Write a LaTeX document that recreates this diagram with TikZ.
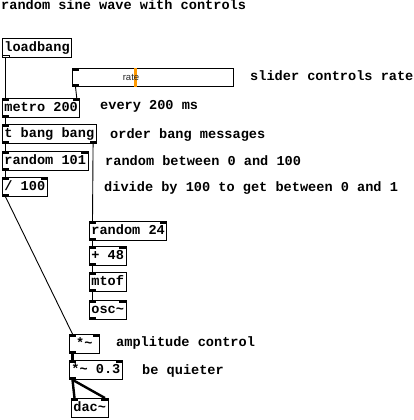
\documentclass[tikz,border=0pt]{standalone}
\usepackage{fontspec}
\setmonofont{Liberation Mono}
\newfontfamily\ratefont{Liberation Sans}
\usetikzlibrary{calc}

\begin{document}
\begin{tikzpicture}[x=1pt, y=-1pt]

        \def\fs{13.6}           % font size of boxes and comments
        \def\iw{7}              % width of an in- or outlet
        \def\ih{2.5}            % height of an in- or outlet
        \def\io{3.5}            % offset of a connection from the box edge
        \tikzstyle{obj}=[draw=black, line width=0.8pt, anchor=north west, inner xsep=2pt, inner ysep=0pt,
                         minimum height=19pt, text height=10pt, text depth=2pt,
                         font=\ttfamily\bfseries\fontsize{\fs}{\fs}\selectfont]
        \tikzstyle{cmt}=[anchor=base west, inner sep=0pt, font=\ttfamily\bfseries\fontsize{\fs}{\fs}\selectfont]
        \tikzstyle{ctl}=[line width=0.9pt]
        \tikzstyle{sig}=[line width=2.4pt]

        \useasboundingbox (0,0) rectangle (414,420);

        % Comments
        \node[cmt] (title) at (1,10) {random sine wave with controls};
        \node[cmt] (c-rate) at (250,80) {slider controls rate};
        \node[cmt] (c-metro) at (100,109) {every 200 ms};
        \node[cmt] (c-trig) at (110,138) {order bang messages};
        \node[cmt] (c-rnd) at (105,165) {random between 0 and 100};
        \node[cmt] (c-div) at (104,191) {divide by 100 to get between 0 and 1};
        \node[cmt] (c-mul) at (116,346) {amplitude control};
        \node[cmt] (c-mulq) at (142,374) {be quieter};

        % Control part
        \node[obj] (lb) at (2,38) {loadbang};
        \node[obj, minimum width=161pt, minimum height=18pt] (rate) at (72,68) {};
        \fill[orange!80!yellow] ($(rate.north west)+(62,0)$) rectangle ($(rate.south west)+(65,0)$);
        \node[font=\ratefont\fontsize{9.5}{9.5}\selectfont, text=black!85] (ratelbl) at (131,77) {rate};
        \node[obj] (metro) at (2,98) {metro 200};
        \node[obj] (trig) at (2,124) {t bang bang};
        \node[obj] (rnd) at (2,151) {random 101};
        \node[obj] (div) at (2,177) {/ 100};

        % Audio part
        \node[obj] (rnd24) at (89,221) {random 24};
        \node[obj] (add) at (89,246) {+ 48};
        \node[obj] (mtof) at (89,272) {mtof};
        \node[obj] (osc) at (89,300) {osc\char`~};
        \node[obj, minimum width=30pt] (mul) at (69,334) {*\char`~};
        \node[obj] (mulq) at (69,360) {*\char`~{} 0.3};
        \node[obj] (dac) at (71,398) {dac\char`~};

        % Inlets and outlets
        \foreach \n in {rate,metro,trig,rnd,div,rnd24,add,mtof,osc,mul,mulq,dac}
            \fill (\n.north west) rectangle ++(\iw,\ih);
        \foreach \n in {metro,rnd,div,rnd24,add,osc,mul,mulq,dac}
            \fill (\n.north east) rectangle ++(-\iw,\ih);
        \foreach \n in {rate,metro,trig,rnd,div,rnd24,add,mtof,osc,mul,mulq}
            \fill (\n.south west) rectangle ++(\iw,-\ih);
        \fill (trig.south east) rectangle ++(-\iw,-\ih);
        \draw[line width=0.7pt] ($(lb.south west)+(0.4,-0.4)$) rectangle ++(\iw,-\ih);

        % Control connections
        \draw[ctl] ($(lb.south west)+(\io,0)$) -- ($(metro.north west)+(\io,0)$);
        \draw[ctl] ($(rate.south west)+(\io,0)$) -- ($(metro.north east)+(-\io,0)$);
        \draw[ctl] ($(metro.south west)+(\io,0)$) -- ($(trig.north west)+(\io,0)$);
        \draw[ctl] ($(trig.south west)+(\io,0)$) -- ($(rnd.north west)+(\io,0)$);
        \draw[ctl] ($(trig.south east)+(-\io,0)$) -- ($(rnd24.north west)+(\io,0)$);
        \draw[ctl] ($(rnd.south west)+(\io,0)$) -- ($(div.north west)+(\io,0)$);
        \draw[ctl] ($(div.south west)+(\io,0)$) -- ($(mul.north west)+(\io,0)$);
        \draw[ctl] ($(rnd24.south west)+(\io,0)$) -- ($(add.north west)+(\io,0)$);
        \draw[ctl] ($(add.south west)+(\io,0)$) -- ($(mtof.north west)+(\io,0)$);
        \draw[ctl] ($(mtof.south west)+(\io,0)$) -- ($(osc.north west)+(\io,0)$);

        % Signal connections
        \draw[sig] ($(osc.south west)+(\io,0)$) -- ($(osc.south west)+(\io,0)$ |- mul.north);
        \draw[sig] ($(mul.south west)+(\io,0)$) -- ($(mulq.north west)+(\io,0)$);
        \draw[sig] ($(mulq.south west)+(\io,0)$) -- ($(dac.north west)+(\io,0)$);
        \draw[sig] ($(mulq.south west)+(\io,0)$) -- ($(dac.north east)+(-\io,0)$);

\end{tikzpicture}
\end{document}
